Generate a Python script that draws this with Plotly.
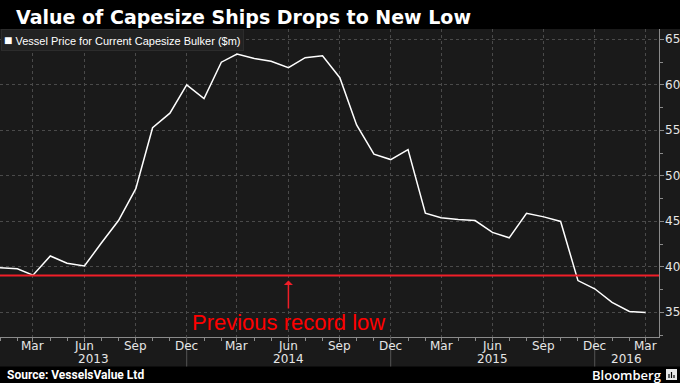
import pandas as pd
import plotly.graph_objects as go

# ---- data ----
months = pd.date_range("2013-01-01", "2016-03-01", freq="MS")
vessel_price = [
    39.9, 39.8, 39.1, 41.2, 40.4, 40.1, 42.6, 45.1, 48.6, 55.3, 56.9, 60.0,   # 2013
    58.5, 62.5, 63.4, 62.9, 62.6, 61.9, 63.0, 63.2, 60.8, 55.6, 52.4, 51.8,   # 2014
    52.9, 45.9, 45.4, 45.2, 45.1, 43.8, 43.2, 45.9, 45.5, 45.0, 38.5, 37.6,   # 2015
    36.1, 35.1, 35.0,                                                          # 2016
]
previous_record_low = 39.05
y_ticks = [35, 40, 45, 50, 55, 60, 65]
y_minor_ticks = [32.5, 37.5, 42.5, 47.5, 52.5, 57.5, 62.5]
title_text = "Value of Capesize Ships Drops to New Low"
series_name = "Vessel Price for Current Capesize Bulker ($m)"
annotation_text = "Previous record low"
annotation_month = pd.Timestamp("2014-06-01")
source_text = "Source: VesselsValue Ltd"
brand_text = "Bloomberg"

# ---- geometry ----
W, H = 680, 383
L, R, T, B = 0, 21, 29, 46
PH = H - T - B
PW = W - L - R
def py(px):  # pixel y (from top) -> paper y
    return (H - B - px) / PH
def pxx(px):  # pixel x -> paper x
    return (px - L) / PW

BG = "#1a1a1a"
GRID = "#4a4a4a"
AXIS = "#8a8a8a"
RED = "#f01e28"
LABEL = "#e6e6e6"

tick_dates = [d for d in months if d.month in (3, 6, 9, 12)]
tick_text = [d.strftime("%b") for d in tick_dates]
sep_dates = [d for d in months if d.month == 12]
x_end = months[-1] + pd.Timedelta(days=24)

fig = go.Figure()
fig.add_trace(go.Scatter(
    x=months, y=vessel_price, mode="lines", name=series_name,
    line=dict(color="#ffffff", width=1.5), showlegend=False,
))

# previous record low line
fig.add_shape(type="line", xref="paper", yref="y", x0=0, x1=1,
              y0=previous_record_low, y1=previous_record_low,
              line=dict(color=RED, width=2))

# black title bar and footer
fig.add_shape(type="rect", xref="paper", yref="paper", x0=pxx(0), x1=pxx(W),
              y0=py(0), y1=1, fillcolor="#000000", line=dict(width=0), layer="below")
fig.add_shape(type="rect", xref="paper", yref="paper", x0=pxx(0), x1=pxx(W),
              y0=py(H), y1=py(366.5), fillcolor="#000000", line=dict(width=0), layer="below")

# year separators
for d in sep_dates:
    fig.add_shape(type="line", xref="x", yref="paper", x0=d, x1=d,
                  y0=0, y1=py(366.5), line=dict(color="#555555", width=1))

# month tick labels
for d, t in zip(tick_dates, tick_text):
    fig.add_annotation(x=d, xref="x", y=py(346), yref="paper", text=t,
                       showarrow=False, font=dict(color=LABEL, size=12,
                       family="DejaVu Sans"), yanchor="middle")

# year labels centred between separators
bounds = [months[0]] + sep_dates + [x_end]
for a, b in zip(bounds[:-1], bounds[1:]):
    mid = a + (b - a) / 2
    yr = (a + pd.Timedelta(days=40)).year
    fig.add_annotation(x=mid, xref="x", y=py(359), yref="paper", text=str(yr),
                       showarrow=False, font=dict(color=LABEL, size=12,
                       family="DejaVu Sans"), yanchor="middle")

# y tick labels (right side)
for v in y_ticks:
    fig.add_annotation(x=pxx(663), xref="paper", y=v, yref="y", text=str(v),
                       showarrow=False, xanchor="left", yanchor="middle",
                       font=dict(color=LABEL, size=12, family="DejaVu Sans"))

# arrow + label
fig.add_annotation(x=annotation_month, y=previous_record_low, xref="x", yref="y",
                   text=annotation_text, showarrow=True, ax=0, ay=47,
                   arrowhead=1, arrowsize=1, arrowwidth=1.5, arrowcolor=RED,
                   standoff=5, font=dict(color="#ff0000", size=22, family="Liberation Sans"))

# legend box
fig.add_annotation(x=pxx(1), y=1, xref="paper", yref="paper", xanchor="left", yanchor="top",
                   text="<span style='font-size:14px'>■</span> " + series_name,
                   showarrow=False, align="left",
                   font=dict(color="#ffffff", size=11, family="Liberation Sans"),
                   bgcolor="#222222", bordercolor="#2c2c2c", borderwidth=1, borderpad=2)

# title
fig.add_annotation(x=pxx(14), y=py(17), xref="paper", yref="paper", xanchor="left",
                   yanchor="middle", text="<b>" + title_text + "</b>", showarrow=False,
                   font=dict(color="#ffffff", size=19, family="DejaVu Sans"))

# footer
fig.add_annotation(x=pxx(5), y=py(375), xref="paper", yref="paper", xanchor="left",
                   yanchor="middle", text="<b>" + source_text + "</b>", showarrow=False,
                   font=dict(color="#ffffff", size=12, family="Roboto"))
fig.add_annotation(x=pxx(663), y=py(375), xref="paper", yref="paper", xanchor="right",
                   yanchor="middle", text=brand_text, showarrow=False,
                   font=dict(color="#ffffff", size=13, family="Open Sans", weight=600))
fig.add_shape(type="rect", xref="paper", yref="paper", x0=pxx(666), x1=pxx(677),
              y0=py(380), y1=py(369), fillcolor="#e8e8e8", line=dict(width=0))
for bx, btop in [(669, 374), (671.5, 372), (674, 375)]:
    fig.add_shape(type="line", xref="paper", yref="paper", x0=pxx(bx), x1=pxx(bx),
                  y0=py(378), y1=py(btop), line=dict(color="#000000", width=1.2))

fig.update_layout(
    width=W, height=H, margin=dict(l=L, r=R, t=T, b=B, autoexpand=False),
    paper_bgcolor=BG, plot_bgcolor=BG,
    xaxis=dict(
        range=[months[0], x_end], tickmode="array", tickvals=tick_dates,
        showticklabels=False,
        showgrid=True, gridcolor=GRID, griddash="dot", gridwidth=1,
        ticks="outside", ticklen=4, tickcolor=AXIS, showline=True, linecolor=AXIS,
        minor=dict(dtick="M1", tick0=months[0], ticks="outside", ticklen=3, tickcolor=AXIS,
                   showgrid=False),
        zeroline=False,
    ),
    yaxis=dict(
        side="right", range=[32.3, 66.15], tickmode="array", tickvals=y_ticks,
        showticklabels=False,
        showgrid=True, gridcolor=GRID, griddash="dot", gridwidth=1,
        ticks="outside", ticklen=4, tickcolor=AXIS, showline=True, linecolor=AXIS,
        minor=dict(tickmode="array", tickvals=y_minor_ticks,
                   ticks="outside", ticklen=3, tickcolor=AXIS, showgrid=False),
        zeroline=False,
    ),
)

fig.write_html("out.html", config={"displayModeBar": False},
               post_script="document.body.style.margin='0';document.body.style.background='#1a1a1a';")
